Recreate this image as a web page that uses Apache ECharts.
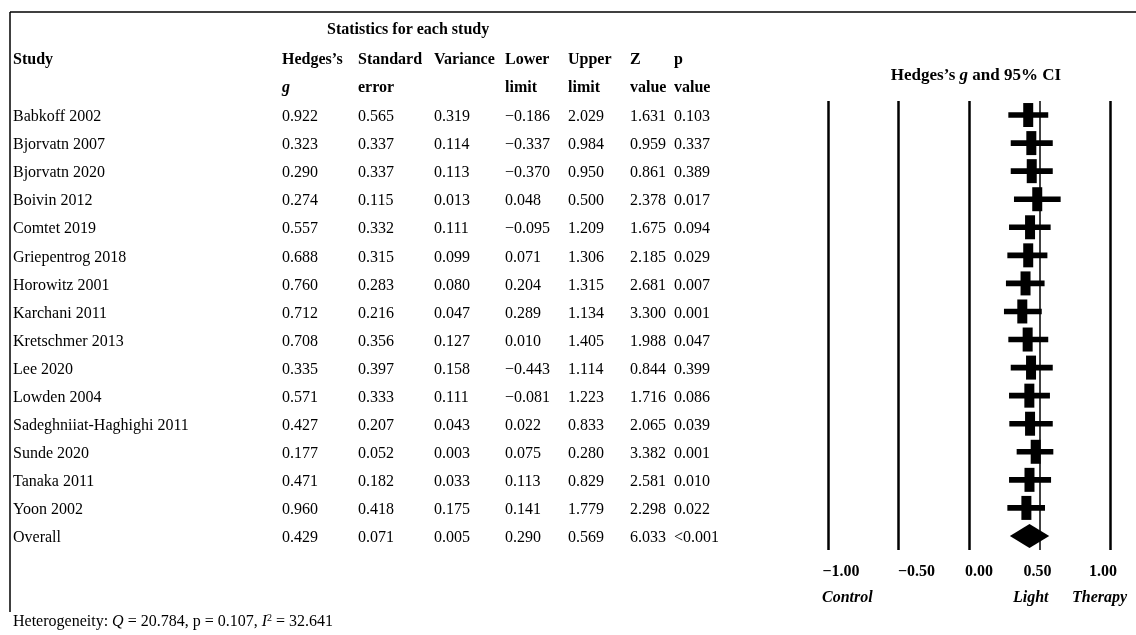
<!DOCTYPE html>
<html><head><meta charset="utf-8">
<script src="https://cdn.jsdelivr.net/npm/echarts@6/dist/echarts.min.js"></script>
<style>html,body{margin:0;padding:0;background:#fff}#c{width:1136px;height:635px}</style>
</head><body><div id="c"></div>
<script>
// ---- Table data ----
const studies = ['Babkoff 2002','Bjorvatn 2007','Bjorvatn 2020','Boivin 2012','Comtet 2019','Griepentrog 2018','Horowitz 2001','Karchani 2011','Kretschmer 2013','Lee 2020','Lowden 2004','Sadeghniiat-Haghighi 2011','Sunde 2020','Tanaka 2011','Yoon 2002','Overall'];
const hedgesG = [0.922,0.323,0.290,0.274,0.557,0.688,0.760,0.712,0.708,0.335,0.571,0.427,0.177,0.471,0.960,0.429];
const stdErr = [0.565,0.337,0.337,0.115,0.332,0.315,0.283,0.216,0.356,0.397,0.333,0.207,0.052,0.182,0.418,0.071];
const variance = [0.319,0.114,0.113,0.013,0.111,0.099,0.080,0.047,0.127,0.158,0.111,0.043,0.003,0.033,0.175,0.005];
const lowerLimit = [-0.186,-0.337,-0.370,0.048,-0.095,0.071,0.204,0.289,0.010,-0.443,-0.081,0.022,0.075,0.113,0.141,0.290];
const upperLimit = [2.029,0.984,0.950,0.500,1.209,1.306,1.315,1.134,1.405,1.114,1.223,0.833,0.280,0.829,1.779,0.569];
const zValue = [1.631,0.959,0.861,2.378,1.675,2.185,2.681,3.300,1.988,0.844,1.716,2.065,3.382,2.581,2.298,6.033];
const pValue = ['0.103','0.337','0.389','0.017','0.094','0.029','0.007','0.001','0.047','0.399','0.086','0.039','0.001','0.010','0.022','<0.001'];

// ---- Forest plot marks as drawn in the picture (x-axis units) ----
const plotPoint = [0.420,0.442,0.445,0.484,0.433,0.420,0.401,0.378,0.416,0.440,0.428,0.433,0.473,0.429,0.407];
const plotLow   = [0.279,0.296,0.296,0.319,0.284,0.272,0.262,0.248,0.279,0.296,0.284,0.286,0.338,0.284,0.272];
const plotHigh  = [0.562,0.594,0.594,0.650,0.579,0.556,0.536,0.516,0.562,0.594,0.574,0.594,0.598,0.582,0.539];
const overallIndex = 15;

// ---- Axis ----
const tickValues = [-1, -0.5, 0, 0.5, 1];
const refLines = [-1, -0.5, 0, 0.5, 1];

const FONT = '"Liberation Serif","Times New Roman",serif';
const FS = 16;
const fmt = v => typeof v === 'string' ? v : (v < 0 ? '\u2212' + Math.abs(v).toFixed(3) : v.toFixed(3));
const fmtTick = v => (v < 0 ? '\u2212' + Math.abs(v).toFixed(2) : v.toFixed(2));

const colX = [13, 282, 358, 434, 505, 568, 630, 674];
const cols = [studies, hedgesG, stdErr, variance, lowerLimit, upperLimit, zValue, pValue];

const chart = echarts.init(document.getElementById('c'));
const rowIdx = studies.map((_, i) => i);

const tickPad = {'-1': [0,0,0,26], '-0.5': [0,0,0,36], '0': [0,0,0,20], '0.5': [0,4,0,0], '1': [0,14,0,0]};
const richTicks = {};
tickValues.forEach((v, i) => {
  richTicks['t' + i] = {fontFamily: FONT, fontWeight: 'bold', fontSize: 16, color: '#000', padding: tickPad[String(v)]};
});

const txt = (t, x, y, extra) => ({type: 'text', x: x, y: y, style: Object.assign({text: t, fontFamily: FONT, fontWeight: 'bold', fontSize: FS, fill: '#000', verticalAlign: 'middle'}, extra || {})});

const option = {
  animation: false,
  backgroundColor: '#fff',
  grid: [{left: 828, right: 26, top: 101, bottom: 85}],
  xAxis: [{
    type: 'value', min: -1, max: 1, interval: 0.5,
    axisLine: {show: false}, axisTick: {show: false}, splitLine: {show: false},
    axisLabel: {
      margin: 14,
      formatter: v => { const i = tickValues.indexOf(v); return '{t' + i + '|' + fmtTick(v) + '}'; },
      rich: richTicks
    }
  }],
  yAxis: [{type: 'category', data: rowIdx, inverse: true, show: false}],
  series: [
    {
      type: 'custom', name: 'studies',
      data: plotPoint.map((p, i) => [p, i, plotLow[i], plotHigh[i]]),
      renderItem: (params, api) => {
        const y = api.coord([0, api.value(1)])[1];
        const pc = api.coord([api.value(0), api.value(1)]);
        const lo = api.coord([api.value(2), api.value(1)])[0];
        const hi = api.coord([api.value(3), api.value(1)])[0];
        return {type: 'group', children: [
          {type: 'rect', shape: {x: lo, y: y - 2.8, width: hi - lo, height: 5.6}, style: {fill: '#000'}},
          {type: 'rect', shape: {x: pc[0] - 5, y: y - 12, width: 10, height: 24}, style: {fill: '#000'}}
        ]};
      },
      markLine: {
        silent: true, symbol: 'none', label: {show: false},
        data: refLines.map(v => ({xAxis: v, lineStyle: {color: '#000', type: 'solid', width: v === 0.5 ? 1.5 : 2.5}}))
      },
      z: 3
    },
    {
      type: 'custom', name: 'overall',
      data: [[hedgesG[overallIndex], overallIndex, lowerLimit[overallIndex], upperLimit[overallIndex]]],
      renderItem: (params, api) => {
        const c = api.coord([api.value(0), api.value(1)]);
        const lo = api.coord([api.value(2), api.value(1)])[0];
        const hi = api.coord([api.value(3), api.value(1)])[0];
        return {type: 'polygon', shape: {points: [[lo, c[1]], [c[0], c[1] - 12], [hi, c[1]], [c[0], c[1] + 12]]}, style: {fill: '#000'}};
      },
      z: 3
    },
    {
      type: 'custom', name: 'table', clip: false,
      data: rowIdx.map(i => [0, i]),
      renderItem: (params, api) => {
        const i = api.value(1);
        const y = api.coord([0, i])[1] + 2;
        return {type: 'group', children: cols.map((arr, k) => ({
          type: 'text', x: colX[k], y: y,
          style: {text: fmt(arr[i]), fontFamily: FONT, fontSize: FS, fill: '#000', verticalAlign: 'middle', align: 'left'}
        }))};
      }
    }
  ],
  graphic: [
    {type: 'line', shape: {x1: 10, y1: 12, x2: 1136, y2: 12}, style: {stroke: '#000', lineWidth: 1.5}},
    {type: 'line', shape: {x1: 10, y1: 12, x2: 10, y2: 612}, style: {stroke: '#000', lineWidth: 1.5}},
    txt('Statistics for each study', 327, 30),
    ...['Study','Hedges\u2019s','Standard','Variance','Lower','Upper','Z','p'].map((t, k) => txt(t, colX[k], 60)),
    ...[['error',2],['limit',4],['limit',5],['value',6],['value',7]].map(([t,k]) => txt(t, colX[k], 88)),
    txt('g', colX[1], 88, {fontStyle: 'italic'}),
    {type: 'text', x: 976, y: 76, style: {
      text: '{b|Hedges\u2019s }{bi|g}{b| and 95% CI}', align: 'center', verticalAlign: 'middle',
      rich: {b: {fontFamily: FONT, fontWeight: 'bold', fontSize: 17, fill: '#000'}, bi: {fontFamily: FONT, fontWeight: 'bold', fontStyle: 'italic', fontSize: 17, fill: '#000'}}}},
    txt('Control', 822, 598, {fontStyle: 'italic'}),
    txt('Light', 1013, 598, {fontStyle: 'italic'}),
    txt('Therapy', 1072, 598, {fontStyle: 'italic'}),
    {type: 'text', x: 13, y: 622, style: {
      text: '{r|Heterogeneity: }{i|Q}{r| = 20.784, p = 0.107, }{i|I}{s|2}{r| = 32.641}', verticalAlign: 'middle',
      rich: {r: {fontFamily: FONT, fontSize: FS, fill: '#000'}, i: {fontFamily: FONT, fontStyle: 'italic', fontSize: FS, fill: '#000'}, s: {fontFamily: FONT, fontSize: 10, fill: '#000', verticalAlign: 'top', padding: [0,0,8,0]}}}}
  ]
};
chart.setOption(option);
</script>
</body></html>
